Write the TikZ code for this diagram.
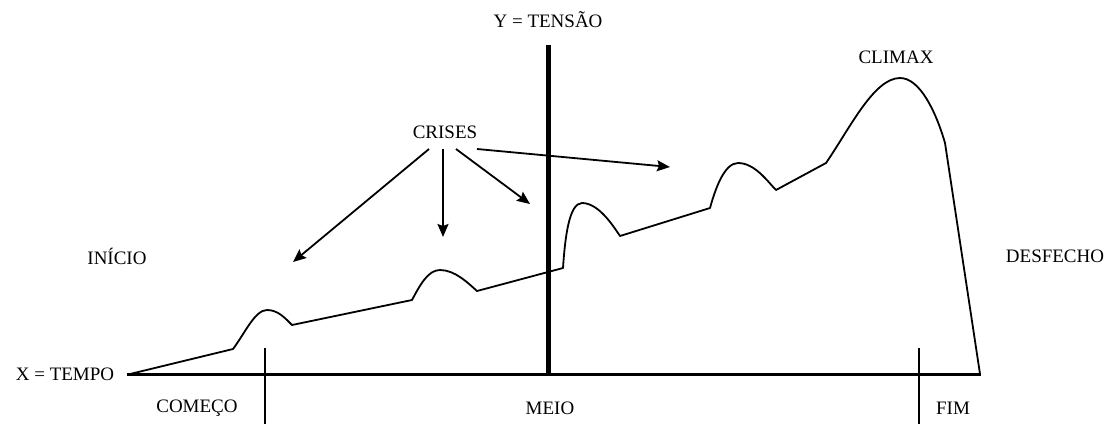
\documentclass[tikz,border=0pt]{standalone}
\usepackage{fontspec}
\setmainfont{Liberation Serif}
\usetikzlibrary{arrows.meta}
\tikzset{
  lbl/.style={font=\fontsize{19}{21}\selectfont, inner sep=0pt},
  curve/.style={line width=1.8pt, line join=round},
  axisx/.style={line width=3pt},
  axisy/.style={line width=5pt},
  tick/.style={line width=1.4pt},
  crisisarrow/.style={line width=1.8pt, -{Stealth[length=13pt,width=11pt,inset=2pt]}}
}
\begin{document}
\begin{tikzpicture}[x=1pt,y=-1pt]
\useasboundingbox (0,0) rectangle (1115,424);
% labels
\node[lbl] (ylab) at (548,20) {Y = TENSÃO};
\node[lbl] (xlab) at (65,374) {X = TEMPO};
\node[lbl] (inicio) at (117,256) {INÍCIO};
\node[lbl] (desfecho) at (1055,256) {DESFECHO};
\node[lbl] (climax) at (896,57) {CLIMAX};
\node[lbl] (crises) at (445,132) {CRISES};
\node[lbl] (comeco) at (197,408) {COMEÇO};
\node[lbl] (meio) at (550,408) {MEIO};
\node[lbl] (fim) at (953,408) {FIM};
% axes
\coordinate (x0) at (127,374);
\coordinate (x1) at (981,374);
\coordinate (y0) at (548,45);
\coordinate (y1) at (548,376);
\draw[axisx] (x0) -- (x1);
\draw[axisy] (y0) -- (y1);
\coordinate (t1a) at (265,348);
\coordinate (t1b) at (265,424);
\coordinate (t2a) at (919,348);
\coordinate (t2b) at (919,424);
\draw[tick] (t1a) -- (t1b);
\draw[tick] (t2a) -- (t2b);
% tension curve
\draw[curve] (130,374) -- (233,349)
  .. controls (245,333) and (255,310) .. (267,310)
  .. controls (278,310) and (285,318) .. (292,325)
  -- (412,300)
  .. controls (420,285) and (428,270) .. (440,270)
  .. controls (455,270) and (468,283) .. (477,291)
  -- (563,268)
  .. controls (565,238) and (569,203) .. (582,203)
  .. controls (598,203) and (612,224) .. (620,236)
  -- (710,208)
  .. controls (715,190) and (724,163) .. (738,163)
  .. controls (755,163) and (768,182) .. (776,190)
  -- (826,163)
  .. controls (850,128) and (874,78) .. (900,78)
  .. controls (920,78) and (936,112) .. (945,143)
  -- (980,374);
% arrows
\coordinate (a1s) at (429,149);
\coordinate (a1e) at (293,262);
\coordinate (a2s) at (443,149);
\coordinate (a2e) at (443,237);
\coordinate (a3s) at (456,149);
\coordinate (a3e) at (530,204);
\coordinate (a4s) at (477,149);
\coordinate (a4e) at (670,167);
\draw[crisisarrow] (a1s) -- (a1e);
\draw[crisisarrow] (a2s) -- (a2e);
\draw[crisisarrow] (a3s) -- (a3e);
\draw[crisisarrow] (a4s) -- (a4e);
\end{tikzpicture}
\end{document}
